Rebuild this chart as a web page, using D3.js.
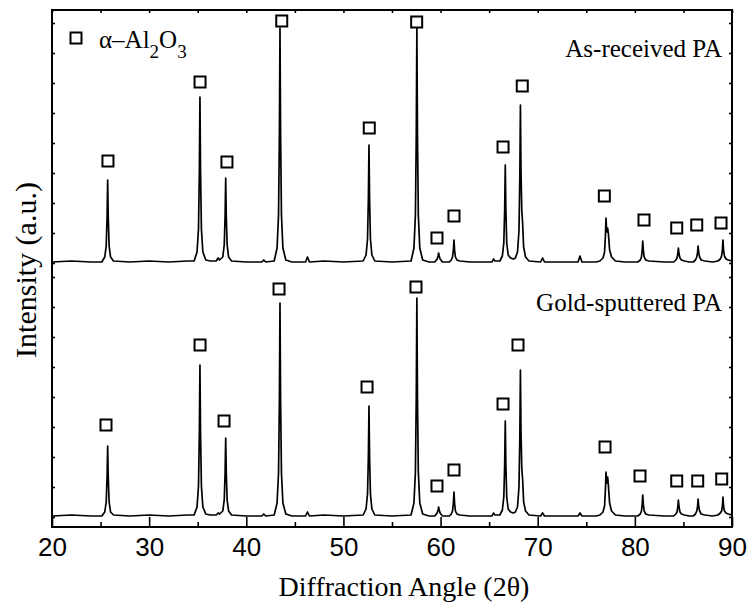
<!DOCTYPE html>
<html>
<head>
<meta charset="utf-8">
<script src="https://cdn.jsdelivr.net/npm/d3@7/dist/d3.min.js"></script>
<style>
  html, body { margin: 0; padding: 0; background: #fff; }
  svg { display: block; }
</style>
</head>
<body>
<svg id="chart" width="747" height="607"></svg>
<script>
// ---------- DATA ----------
const xMajorTicks = [20, 30, 40, 50, 60, 70, 80, 90];
const xMinorTicks = [25, 35, 45, 55, 65, 75, 85];
const yTicks = [10, 40, 70, 100, 130, 160, 190, 220, 250, 264, 294, 324, 354, 384, 414, 444, 474, 504];

const topOffset = 265;     // vertical offset of the upper pattern (a.u.)
const bottomOffset = 11;   // vertical offset of the lower pattern (a.u.)

// As-received PA: [2theta, intensity above its baseline]
const asReceived = [
  [20.0,0],[22.0,1],[24.0,0],
  [25.13,0],[25.43,5],[25.58,16],[25.67,45],[25.73,82],[25.79,45],[25.88,16],[26.03,5],[26.33,1],
  [28.0,0],[30.0,1],[32.0,0],[34.0,1],
  [34.63,1],[34.93,10],[35.08,33],[35.17,91],[35.23,165],[35.29,91],[35.38,33],[35.53,10],[35.83,2],
  [36.3,1],[36.9,1],[37.1,4],[37.25,2],
  [37.58,5],[37.73,17],[37.82,46],[37.88,84],[37.94,46],[38.03,17],[38.18,5],[38.48,1],
  [40.0,0],[41.6,0],[41.8,2],[42.0,0],
  [42.87,1],[43.17,14],[43.32,47],[43.41,129],[43.47,234],[43.53,129],[43.62,47],[43.77,14],[44.07,2],
  [44.7,0],[46.1,0],[46.3,5],[46.5,0],
  [48.0,1],[50.0,0],
  [52.03,1],[52.33,7],[52.48,23],[52.57,64],[52.63,117],[52.69,64],[52.78,23],[52.93,7],[53.23,1],
  [55.0,0],
  [56.96,1],[57.26,14],[57.41,47],[57.50,129],[57.56,234],[57.62,129],[57.71,47],[57.86,14],[58.16,2],
  [58.8,0],[59.4,0],[59.65,3],[59.74,6],[59.8,9],[59.86,6],[59.95,3],[60.2,0],
  [60.9,0],[61.1,2],[61.23,5],[61.32,12],[61.38,22],[61.44,12],[61.53,5],[61.68,2],[61.98,1],
  [63.0,0],[65.3,0],[65.45,3],[65.6,1],
  [66.1,1],[66.36,6],[66.51,19],[66.6,53],[66.66,97],[66.72,53],[66.81,19],[66.96,7],[67.2,4],[67.5,3],
  [67.7,4],[67.92,10],[68.07,31],[68.16,86],[68.22,157],[68.28,90],[68.36,52],[68.45,38],[68.55,15],[68.75,5],[69.1,1],
  [70.3,0],[70.5,4],[70.7,0],
  [72.0,0],[74.15,0],[74.35,6],[74.55,0],
  [76.0,0],[76.4,1],[76.72,4],[76.88,10],[76.97,26],[77.03,44],[77.1,30],[77.2,34],[77.28,28],[77.4,12],[77.6,5],[78.0,1],
  [79.0,0],[80.3,0],[80.56,2],[80.68,5],[80.76,12],[80.81,21],[80.87,12],[80.96,5],[81.12,2],[81.45,1],
  [83.0,0],[84.0,0],[84.22,2],[84.34,4],[84.42,8],[84.48,14],[84.55,8],[84.64,4],[84.8,2],[85.1,1],
  [85.6,0],[86.0,0],[86.24,2],[86.37,5],[86.45,9],[86.51,16],[86.58,9],[86.67,5],[86.83,2],[87.2,1],
  [88.0,0],[88.55,1],[88.8,3],[88.93,6],[89.01,12],[89.07,22],[89.13,12],[89.22,6],[89.38,3],[89.6,2],[90.0,1]
];

// Gold-sputtered PA
const goldSputtered = [
  [20.0,0],[22.0,1],[24.0,0],
  [25.13,0],[25.43,4],[25.58,14],[25.67,39],[25.73,70],[25.79,39],[25.88,14],[26.03,4],[26.33,1],
  [28.0,0],[30.0,1],[32.0,0],[34.0,1],
  [34.63,1],[34.93,9],[35.08,30],[35.17,83],[35.23,151],[35.29,83],[35.38,30],[35.53,9],[35.83,2],
  [36.3,1],[36.9,1],[37.1,3],[37.25,2],
  [37.58,5],[37.73,16],[37.82,43],[37.88,78],[37.94,43],[38.03,16],[38.18,5],[38.48,1],
  [40.0,0],[41.6,0],[41.8,2],[42.0,0],
  [42.87,1],[43.17,13],[43.32,43],[43.41,117],[43.47,213],[43.53,117],[43.62,43],[43.77,13],[44.07,2],
  [44.7,0],[46.1,0],[46.3,4],[46.5,0],
  [48.0,1],[50.0,0],
  [52.03,1],[52.33,7],[52.48,22],[52.57,60],[52.63,110],[52.69,60],[52.78,22],[52.93,7],[53.23,1],
  [55.0,0],
  [56.96,1],[57.26,13],[57.41,44],[57.50,120],[57.56,218],[57.62,120],[57.71,44],[57.86,13],[58.16,2],
  [58.8,0],[59.4,0],[59.65,3],[59.74,6],[59.8,9],[59.86,6],[59.95,3],[60.2,0],
  [60.9,0],[61.1,2],[61.23,5],[61.32,13],[61.38,24],[61.44,13],[61.53,5],[61.68,2],[61.98,1],
  [63.0,0],[65.3,0],[65.45,3],[65.6,1],
  [66.1,1],[66.36,6],[66.51,19],[66.6,52],[66.66,95],[66.72,52],[66.81,19],[66.96,7],[67.2,4],[67.5,3],
  [67.7,4],[67.92,9],[68.07,29],[68.16,80],[68.22,146],[68.28,84],[68.36,48],[68.45,36],[68.55,14],[68.75,5],[69.1,1],
  [70.3,0],[70.5,3],[70.7,0],
  [72.0,0],[74.15,0],[74.35,3],[74.55,0],
  [76.0,0],[76.4,1],[76.72,4],[76.88,10],[76.97,26],[77.03,44],[77.1,33],[77.2,39],[77.28,30],[77.4,13],[77.6,5],[78.0,1],
  [79.0,0],[80.3,0],[80.56,2],[80.68,5],[80.76,12],[80.81,21],[80.87,12],[80.96,5],[81.12,2],[81.45,1],
  [83.0,0],[84.0,0],[84.22,2],[84.34,4],[84.42,9],[84.48,16],[84.55,9],[84.64,4],[84.8,2],[85.1,1],
  [85.6,0],[86.0,0],[86.24,2],[86.37,5],[86.45,9],[86.51,17],[86.58,9],[86.67,5],[86.83,2],[87.2,1],
  [88.0,0],[88.55,1],[88.8,3],[88.93,5],[89.01,10],[89.07,19],[89.13,10],[89.22,5],[89.38,3],[89.6,2],[90.0,1]
];

// alpha-Al2O3 markers: [2theta, height above baseline]
const asReceivedMarkers = [
  [25.76,101],[35.24,180],[38.01,100],[43.65,241],[52.66,134],[57.54,240],
  [59.63,24],[61.38,46],[66.43,115],[68.41,176],[76.86,66],[80.94,42],
  [84.31,34],[86.37,37],[88.87,39]
];
const goldMarkers = [
  [25.56,91],[35.24,171],[37.71,95],[43.37,227],[52.43,129],[57.47,229],
  [59.63,30],[61.38,46],[66.43,112],[67.97,171],[76.93,69],[80.53,40],
  [84.31,35],[86.47,35],[88.94,37]
];

const seriesLabels = ["As-received PA", "Gold-sputtered PA"];
const xTitle = "Diffraction Angle (2θ)";
const yTitle = "Intensity (a.u.)";

// ---------- CHART ----------
const svg = d3.select("#chart");
const L = 52, R = 732, T = 10, B = 527;
const x = d3.scaleLinear().domain([20, 90]).range([L, R]);
const y = d3.scaleLinear().domain([0, 517]).range([B, T]);

const serif = "Liberation Serif, Tinos, Times New Roman, Times, Noto Serif, DejaVu Serif, serif";
const sans = "Liberation Sans, Arimo, Arial, sans-serif";

svg.append("defs").append("clipPath").attr("id", "plotclip")
  .append("rect").attr("x", L).attr("y", T).attr("width", R - L).attr("height", B - T);

// traces
const line = off => d3.line().x(d => x(d[0])).y(d => y(d[1] + off));
const g = svg.append("g").attr("clip-path", "url(#plotclip)");
g.append("path").datum(asReceived).attr("d", line(topOffset))
  .attr("fill", "none").attr("stroke", "#000").attr("stroke-width", 1.7).attr("stroke-linejoin", "round");
g.append("path").datum(goldSputtered).attr("d", line(bottomOffset))
  .attr("fill", "none").attr("stroke", "#000").attr("stroke-width", 1.7).attr("stroke-linejoin", "round");

// markers
const ms = 11;
function drawMarkers(data, off) {
  svg.append("g").selectAll("rect").data(data).join("rect")
    .attr("x", d => x(d[0]) - ms / 2).attr("y", d => y(d[1] + off) - ms / 2)
    .attr("width", ms).attr("height", ms)
    .attr("fill", "#fff").attr("stroke", "#000").attr("stroke-width", 2);
}
drawMarkers(asReceivedMarkers, topOffset);
drawMarkers(goldMarkers, bottomOffset);

// axes
function styleAxis(sel) {
  sel.select(".domain").remove();
  sel.selectAll(".tick line").attr("stroke", "#000").attr("stroke-width", 1.6);
}
svg.append("g").attr("transform", `translate(0,${B})`)
  .call(d3.axisBottom(x).tickValues(xMajorTicks).tickSizeInner(-10).tickSizeOuter(0).tickPadding(11).tickFormat(d3.format("d")))
  .call(styleAxis)
  .call(s => s.selectAll("text").attr("font-family", sans).attr("font-size", 26).attr("fill", "#000"));
svg.append("g").attr("transform", `translate(0,${B})`)
  .call(d3.axisBottom(x).tickValues(xMinorTicks).tickSizeInner(-5).tickSizeOuter(0).tickFormat(""))
  .call(styleAxis);
svg.append("g").attr("transform", `translate(0,${T})`)
  .call(d3.axisTop(x).tickValues(xMajorTicks.concat(xMinorTicks)).tickSizeInner(-3).tickSizeOuter(0).tickFormat(""))
  .call(styleAxis);
svg.append("g").attr("transform", `translate(${L},0)`)
  .call(d3.axisLeft(y).tickValues(yTicks).tickSizeInner(-3).tickSizeOuter(0).tickFormat(""))
  .call(styleAxis);
svg.append("g").attr("transform", `translate(${R},0)`)
  .call(d3.axisRight(y).tickValues(yTicks).tickSizeInner(-3).tickSizeOuter(0).tickFormat(""))
  .call(styleAxis);

// frame
svg.append("rect").attr("x", L).attr("y", T).attr("width", R - L).attr("height", B - T)
  .attr("fill", "none").attr("stroke", "#000").attr("stroke-width", 2);

// axis titles
svg.append("text").attr("x", 404).attr("y", 596)
  .attr("text-anchor", "middle").style("font-family", serif).attr("font-size", 28).attr("fill", "#000")
  .text(xTitle);
svg.append("text").attr("transform", `translate(36,270) rotate(-90)`)
  .attr("text-anchor", "middle").style("font-family", serif).attr("font-size", 30).attr("fill", "#000")
  .text(yTitle);

// series labels
svg.append("text").attr("x", 722).attr("y", 57).attr("text-anchor", "end")
  .style("font-family", serif).attr("font-size", 25).attr("fill", "#000").text(seriesLabels[0]);
svg.append("text").attr("x", 722).attr("y", 311).attr("text-anchor", "end")
  .style("font-family", serif).attr("font-size", 25).attr("fill", "#000").text(seriesLabels[1]);

// legend
svg.append("rect").attr("x", 70.5).attr("y", 32.5).attr("width", ms).attr("height", ms)
  .attr("fill", "#fff").attr("stroke", "#000").attr("stroke-width", 2);
const lt = svg.append("text").attr("x", 99).attr("y", 48)
  .style("font-family", serif).attr("font-size", 25).attr("fill", "#000");
lt.append("tspan").text("α–Al");
lt.append("tspan").attr("dy", 10).attr("font-size", 19).text("2");
lt.append("tspan").attr("dy", -10).text("O");
lt.append("tspan").attr("dy", 10).attr("font-size", 19).text("3");
</script>
</body>
</html>
